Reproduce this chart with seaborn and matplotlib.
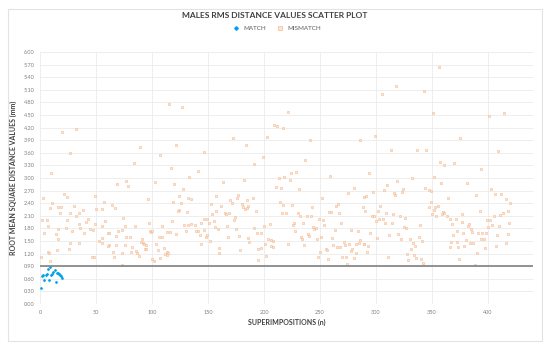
import matplotlib
matplotlib.use("Agg")
from matplotlib import pyplot as plt
from matplotlib.patches import Rectangle
from matplotlib.lines import Line2D
import numpy as np
import pandas as pd
import seaborn as sns

# values (superimposition n, RMS distance in mm)
match_x = [1, 2, 3, 4, 5, 6, 7, 8, 9, 10, 11, 12, 13, 14, 15, 16, 17, 18, 19, 20]
match_y = [0.39, 0.67, 0.70, 0.57, 0.70, 0.71, 0.83, 0.57, 0.89, 0.70,
           0.71, 0.77, 0.80, 0.53, 0.75, 0.74, 0.72, 0.70, 0.67, 0.63]

mismatch_x = [
    # 0 - 75
    32, 20, 27, 10, 69, 3, 21, 24, 49, 11, 16, 19, 9, 30, 57, 64, 67, 18, 27, 35, 38, 50, 55, 32, 2, 6, 24, 43, 58, 7,
    35, 41, 49, 55, 16, 23, 36, 45, 47, 4, 14, 29, 39, 61, 62, 73, 16, 55, 70, 68, 27, 35, 53, 55, 62, 61, 68, 76, 26, 15,
    7, 8, 65, 73, 1, 9, 46, 48, 66, 73,
    # 75 - 146
    115, 127, 89, 121, 146, 107, 84, 117, 141, 133, 77, 79, 103, 120, 128, 124, 132, 135, 96, 119, 126, 124, 123, 131,
    74, 118, 97, 129, 132, 135, 138, 146, 76, 85, 109, 98, 99, 100, 113, 116, 130, 139, 141, 146, 121, 80, 77, 106,
    109, 91, 143, 90, 92, 93, 95, 104, 144, 82, 94, 95, 111, 105, 81, 86, 87, 113, 114, 88, 112, 113, 100, 102, 107,
    # 146 - 218
    209, 212, 217, 203, 172, 184, 199, 191, 213, 218, 182, 163, 211, 215, 157, 177, 176, 190, 170, 171, 185, 214, 217,
    153, 162, 180, 181, 183, 186, 185, 193, 165, 166, 169, 157, 154, 216, 174, 149, 173, 155, 144, 151, 167, 156, 159,
    200, 205, 191, 175, 194, 197, 178, 149, 148, 168, 186, 204, 206, 208, 152, 187, 201, 206, 208, 197, 195, 160, 179,
    160, 202, 195,
    # 218 - 290
    221, 286, 241, 237, 259, 223, 224, 229, 280, 275, 231, 252, 289, 225, 243, 264, 266, 258, 260, 288, 220, 230, 232,
    238, 242, 267, 269, 249, 253, 254, 227, 226, 235, 244, 245, 246, 228, 263, 278, 284, 233, 234, 239, 240, 247, 251,
    261, 286, 285, 289, 221, 236, 262, 271, 272, 276, 282, 265, 268, 278, 279, 282, 255, 256, 250, 248, 257, 270, 273,
    280, 274,
    # 290 - 360
    356, 318, 305, 343, 351, 299, 313, 337, 345, 357, 361, 294, 332, 352, 319, 358, 310, 344, 347, 349, 324, 323, 307,
    297, 316, 317, 291, 349, 304, 347, 353, 355, 290, 302, 352, 309, 315, 350, 360, 359, 296, 298, 321, 326, 303, 306,
    354, 300, 308, 314, 339, 325, 327, 295, 312, 320, 338, 289, 293, 301, 322, 330, 333, 335, 341, 331, 292, 328, 334,
    311, 329, 336, 340, 342,
    # 360 - 420
    401, 414, 375, 409, 370, 394, 381, 403, 406, 412, 364, 389, 416, 420, 361, 363, 377, 393, 418, 405, 411, 413, 366,
    371, 377, 399, 402, 368, 383, 382, 419, 404, 410, 400, 385, 386, 372, 378, 391, 395, 398, 418, 408, 369, 394, 396,
    380, 367, 372, 384, 387, 416, 379, 373, 366, 407, 397, 390, 374, 388,
]
mismatch_y = [
    # 0 - 75
    4.16, 4.09, 3.59, 3.13, 2.85, 2.53, 2.61, 2.56, 2.57, 2.40, 2.30, 2.30, 2.29, 2.33, 2.44, 2.36, 2.29, 2.17, 2.17, 2.17,
    2.25, 2.26, 2.26, 2.09, 2.00, 2.00, 1.99, 2.03, 1.98, 1.86, 1.91, 1.95, 1.90, 1.85, 1.78, 1.80, 1.81, 1.78, 1.77, 1.70,
    1.67, 1.73, 1.70, 1.70, 1.69, 1.76, 1.55, 1.58, 1.73, 1.61, 1.46, 1.45, 1.49, 1.45, 1.41, 1.39, 1.40, 1.40, 1.31, 1.29,
    1.24, 1.21, 1.24, 1.21, 1.13, 1.03, 1.11, 1.13, 1.12, 0.92,
    # 75 - 146
    4.76, 4.70, 3.75, 3.79, 3.61, 3.55, 3.35, 3.25, 3.16, 3.02, 2.93, 2.81, 2.90, 2.85, 2.75, 2.57, 2.52, 2.49, 2.50, 2.44,
    2.40, 2.25, 2.21, 2.18, 2.04, 1.98, 1.92, 1.89, 1.89, 1.90, 1.88, 2.02, 1.86, 1.86, 1.86, 1.74, 1.72, 1.74, 1.71, 1.71,
    1.75, 1.74, 1.74, 1.76, 1.67, 1.60, 1.59, 1.59, 1.59, 1.56, 1.64, 1.48, 1.45, 1.42, 1.40, 1.42, 1.42, 1.36, 1.32, 1.31,
    1.33, 1.29, 1.25, 1.27, 1.22, 1.25, 1.21, 1.15, 1.18, 1.17, 1.07, 1.02, 1.09,
    # 146 - 218
    4.26, 4.24, 4.18, 3.97, 3.96, 3.78, 3.51, 3.33, 2.99, 3.02, 2.96, 2.90, 2.78, 2.76, 2.58, 2.60, 2.53, 2.52, 2.48, 2.40,
    2.48, 2.44, 2.36, 2.38, 2.34, 2.37, 2.31, 2.26, 2.33, 2.28, 2.21, 2.17, 2.14, 2.17, 2.21, 2.15, 2.16, 2.08, 2.02, 1.99,
    1.98, 1.92, 1.93, 1.86, 1.84, 1.79, 1.86, 1.90, 1.82, 1.78, 1.68, 1.70, 1.63, 1.64, 1.59, 1.60, 1.58, 1.56, 1.53, 1.51,
    1.50, 1.48, 1.44, 1.38, 1.35, 1.34, 1.30, 1.34, 1.29, 1.21, 1.14, 1.06,
    # 218 - 290
    4.58, 3.90, 3.90, 3.43, 3.06, 2.95, 3.11, 3.14, 2.77, 2.64, 2.74, 2.52, 2.56, 2.35, 2.31, 2.34, 2.37, 2.18, 2.20, 2.31,
    2.16, 2.16, 2.10, 2.10, 2.10, 2.17, 1.94, 2.02, 1.99, 1.88, 1.92, 1.88, 1.93, 1.84, 1.79, 1.81, 1.75, 1.76, 1.77, 1.74,
    1.60, 1.56, 1.67, 1.63, 1.55, 1.59, 1.57, 1.52, 1.46, 1.43, 1.42, 1.40, 1.40, 1.48, 1.40, 1.43, 1.44, 1.35, 1.35, 1.27,
    1.30, 1.21, 1.30, 1.29, 1.24, 1.12, 1.08, 1.11, 1.11, 1.09, 0.96,
    # 290 - 360
    5.64, 5.18, 5.01, 5.08, 4.56, 3.99, 3.67, 3.67, 3.66, 3.38, 3.30, 3.13, 3.00, 3.02, 2.94, 2.89, 2.83, 2.77, 2.71, 2.70,
    2.74, 2.67, 2.71, 2.67, 2.64, 2.60, 2.57, 2.43, 2.34, 2.32, 2.30, 2.33, 2.22, 2.21, 2.24, 2.17, 2.14, 2.14, 2.20, 2.14,
    2.10, 2.10, 2.10, 2.06, 2.02, 2.03, 2.10, 1.97, 1.93, 1.92, 1.87, 1.83, 1.82, 1.68, 1.65, 1.66, 1.60, 1.42, 1.37, 1.57,
    1.54, 1.56, 1.46, 1.37, 1.50, 1.32, 1.25, 1.18, 1.16, 1.12, 1.06, 1.09, 1.07, 0.98,
    # 360 - 420
    4.47, 4.54, 3.96, 3.64, 3.35, 3.21, 2.89, 2.75, 2.63, 2.63, 2.53, 2.59, 2.50, 2.41, 2.17, 2.10, 2.14, 2.21, 2.21, 2.10,
    2.12, 2.16, 2.02, 2.02, 1.96, 1.99, 1.99, 1.90, 1.90, 1.86, 1.92, 1.88, 1.86, 1.83, 1.78, 1.71, 1.75, 1.70, 1.68, 1.68,
    1.68, 1.66, 1.64, 1.64, 1.54, 1.54, 1.52, 1.48, 1.48, 1.45, 1.45, 1.45, 1.38, 1.36, 1.35, 1.39, 1.33, 1.22, 1.07, 0.92,
]

threshold = 0.90
y_ticks = np.round(np.arange(0, 6.01, 0.30), 2)
x_ticks = [0, 50, 100, 150, 200, 250, 300, 350, 400]

match_df = pd.DataFrame({"n": match_x, "rms": match_y})
mismatch_df = pd.DataFrame({"n": mismatch_x, "rms": mismatch_y})

sns.set_style("white")
plt.rcParams["font.family"] = ["Lato", "DejaVu Sans"]

fig = plt.figure(figsize=(5.5, 3.48), dpi=100)
ax = fig.add_axes([0.0727, 0.1264, 0.896, 0.724])

# light chart border like the original spreadsheet chart
fig.patches.append(Rectangle((0.015, 0.02), 0.97, 0.955, transform=fig.transFigure,
                             fill=False, edgecolor="#E3E3E3", linewidth=0.8))

sns.scatterplot(data=mismatch_df, x="n", y="rms", ax=ax, marker="s", s=3.5,
                color="#FCE4D3", edgecolor="#F6BC93", linewidth=0.5, alpha=0.85, zorder=3)
sns.scatterplot(data=match_df, x="n", y="rms", ax=ax, marker="D", s=2.5,
                color="#00A2E8", edgecolor="#00A2E8", linewidth=0.2, zorder=4)

ax.axhline(threshold, color="#808080", linewidth=1.2, zorder=5)

ax.set_xlim(0, 440)
ax.set_ylim(0, 6.0)
ax.set_xticks(x_ticks)
ax.set_yticks(y_ticks)
ax.set_yticklabels([f"{v:.2f}" for v in y_ticks])
ax.grid(True, color="#EBEBEB", linewidth=0.6)
ax.set_axisbelow(True)
for sp in ax.spines.values():
    sp.set_visible(False)
ax.tick_params(axis="both", labelsize=4, colors="#7F7F7F", length=0, pad=4)

ax.set_xlabel("SUPERIMPOSITIONS (n)", fontsize=5, fontweight="bold", color="#404040", labelpad=3)
ax.set_ylabel("ROOT MEAN SQUARE DISTANCE VALUES (mm)", fontsize=5, fontweight="bold",
              color="#404040", labelpad=5)

fig.text(0.5, 0.955, "MALES RMS DISTANCE VALUES SCATTER PLOT", ha="center", va="center",
         fontsize=6, fontweight="bold", color="#404040")

handles = [
    Line2D([], [], linestyle="", marker="D", markersize=1.8, color="#00A2E8", label="MATCH"),
    Line2D([], [], linestyle="", marker="s", markersize=2.2, markerfacecolor="#FCE4D3",
           markeredgecolor="#F6BC93", markeredgewidth=0.5, label="MISMATCH"),
]
fig.legend(handles=handles, loc="center", bbox_to_anchor=(0.5, 0.918), ncol=2, frameon=False,
           fontsize=4.5, handletextpad=0.2, columnspacing=1.2, labelcolor="#595959")

fig.savefig("out.png", dpi=100)
